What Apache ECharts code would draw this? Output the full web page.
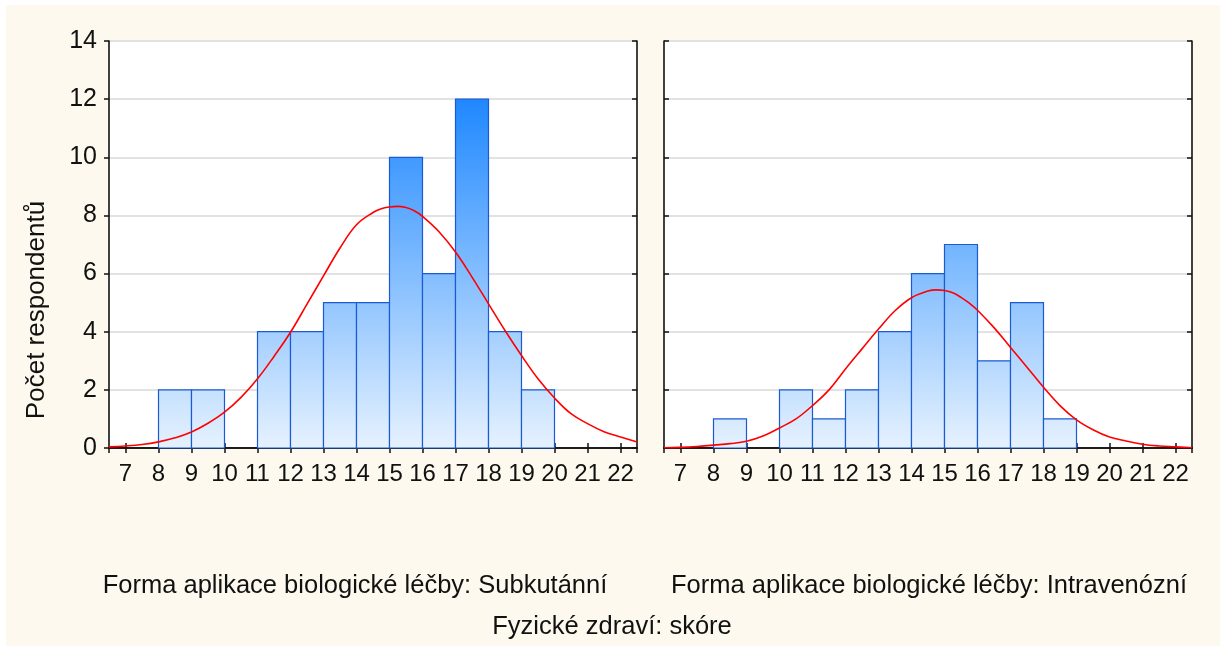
<!DOCTYPE html>
<html>
<head>
<meta charset="utf-8">
<script src="https://cdn.jsdelivr.net/npm/echarts@6/dist/echarts.min.js"></script>
<style>
  html, body { margin: 0; padding: 0; background: #fff; }
  #chart { width: 1220px; height: 650px; }
</style>
</head>
<body>
<div id="chart"></div>
<script>
// histogram bins: each bar runs from start to start + 1
var binStarts = [8, 9, 10, 11, 12, 13, 14, 15, 16, 17, 18, 19];
var countSubkutanni = [2, 2, 0, 4, 4, 5, 5, 10, 6, 12, 4, 2];
var countIntravenozni = [1, 0, 2, 1, 2, 4, 6, 7, 3, 5, 1, 0];

// red fitted curves
var curveX = [6.5, 7, 7.5, 8, 8.5, 9, 9.5, 10, 10.5, 11, 11.5, 12, 12.5, 13, 13.5, 14, 14.5,
  14.75, 15, 15.25, 15.5, 15.75, 16, 16.5, 17, 17.5, 18, 18.5, 19, 19.5, 20, 20.5, 21, 21.5, 22, 22.5];
var curveSubkutanni = [0.04, 0.07, 0.12, 0.21, 0.35, 0.55, 0.85, 1.23, 1.74, 2.38, 3.15, 3.98, 4.95,
  5.92, 6.88, 7.68, 8.1, 8.23, 8.29, 8.31, 8.27, 8.16, 7.97, 7.44, 6.74, 5.88, 4.96, 4.04, 3.18,
  2.38, 1.72, 1.18, 0.84, 0.56, 0.38, 0.21];
var curveIntravenozni = [0.01, 0.02, 0.05, 0.1, 0.15, 0.23, 0.41, 0.69, 1.0, 1.46, 2.0, 2.72, 3.41,
  4.09, 4.72, 5.17, 5.4, 5.44, 5.42, 5.34, 5.18, 4.98, 4.74, 4.14, 3.46, 2.78, 2.09, 1.46, 0.97,
  0.63, 0.38, 0.24, 0.13, 0.07, 0.04, 0.01];

var panelTitles = ['Forma aplikace biologické léčby: Subkutánní', 'Forma aplikace biologické léčby: Intravenózní'];
var xTitle = 'Fyzické zdraví: skóre';
var yTitle = 'Počet respondentů';

var chart = echarts.init(document.getElementById('chart'), null, { renderer: 'canvas' });

var FONT = '"Liberation Sans", Arial, sans-serif';
var INK = '#111';
var edge = { lineStyle: { color: INK, width: 1.6 } };

function pairs(xs, ys) {
  return xs.map(function (x, i) { return [x, ys[i]]; });
}

function renderBars(params, api) {
  var start = api.value(0);
  var count = api.value(1);
  if (!count) return;
  var p0 = api.coord([start, 0]);
  var p1 = api.coord([start + 1, count]);
  // colour depends on height, not on the bar: one gradient for the whole plot
  var yTop = api.coord([start, 12])[1];
  return {
    type: 'rect',
    shape: { x: p0[0], y: p1[1], width: p1[0] - p0[0], height: p0[1] - p1[1] },
    style: {
      fill: new echarts.graphic.LinearGradient(0, yTop, 0, p0[1], [
        { offset: 0, color: '#1f88ff' },
        { offset: 1, color: '#e6f2fe' }
      ], true),
      stroke: '#1a5ad2',
      lineWidth: 1.2
    }
  };
}

function xAxes(grid) {
  return [{
    gridIndex: grid, type: 'value', position: 'bottom',
    min: 6.5, max: 22.5, splitNumber: 16, minInterval: 1, maxInterval: 1,
    axisLine: edge,
    axisTick: { inside: true, length: 5, lineStyle: { color: INK, width: 1.5 } },
    axisLabel: { fontFamily: FONT, fontSize: 24, color: INK, margin: 14, showMinLabel: false, showMaxLabel: false },
    splitLine: { show: false }
  }, {
    gridIndex: grid, type: 'value', position: 'top',
    min: 6.5, max: 22.5, splitNumber: 16, minInterval: 1, maxInterval: 1,
    axisLine: edge,
    axisTick: { inside: true, length: 5, lineStyle: { color: INK, width: 1.5 } },
    axisLabel: { show: false },
    splitLine: { show: false }
  }];
}

function yAxes(grid, withLabels) {
  return [{
    gridIndex: grid, type: 'value', position: 'left',
    min: 0, max: 14, interval: 2,
    axisLine: { show: true, lineStyle: edge.lineStyle },
    axisTick: { show: true, inside: !withLabels, length: 5, lineStyle: { color: INK, width: 1.5 } },
    axisLabel: { show: withLabels, fontFamily: FONT, fontSize: 25, color: INK, margin: 12 },
    splitLine: { show: true, lineStyle: { color: '#d9d9d9', width: 1.5 } }
  }, {
    gridIndex: grid, type: 'value', position: 'right',
    min: 0, max: 14, interval: 2,
    axisLine: { show: true, lineStyle: edge.lineStyle },
    axisTick: { show: true, inside: true, length: 5, lineStyle: { color: INK, width: 1.5 } },
    axisLabel: { show: false },
    splitLine: { show: false }
  }];
}

var option = {
  backgroundColor: '#fff',
  animation: false,
  grid: [
    { left: 109, top: 41, width: 528, height: 407, show: true, backgroundColor: '#fff', borderWidth: 0 },
    { left: 664, top: 41, width: 528, height: 407, show: true, backgroundColor: '#fff', borderWidth: 0 }
  ],
  xAxis: xAxes(0).concat(xAxes(1)),
  yAxis: yAxes(0, true).concat(yAxes(1, false)),
  graphic: [
    { type: 'rect', z: -10, shape: { x: 6, y: 5, width: 1214, height: 641 }, style: { fill: '#fdf9ee' } },
    { type: 'text', x: 37, y: 310, rotation: Math.PI / 2, style: { text: yTitle, font: '26px ' + FONT, fill: INK, align: 'center', verticalAlign: 'middle' } },
    { type: 'text', x: 355, y: 586, style: { text: panelTitles[0], font: '25.5px ' + FONT, fill: INK, align: 'center', verticalAlign: 'middle' } },
    { type: 'text', x: 929, y: 586, style: { text: panelTitles[1], font: '25.5px ' + FONT, fill: INK, align: 'center', verticalAlign: 'middle' } },
    { type: 'text', x: 612, y: 627, style: { text: xTitle, font: '25.5px ' + FONT, fill: INK, align: 'center', verticalAlign: 'middle' } }
  ],
  series: [
    { type: 'custom', xAxisIndex: 0, yAxisIndex: 0, renderItem: renderBars, data: pairs(binStarts, countSubkutanni), z: 2 },
    { type: 'custom', xAxisIndex: 2, yAxisIndex: 2, renderItem: renderBars, data: pairs(binStarts, countIntravenozni), z: 2 },
    { type: 'line', xAxisIndex: 0, yAxisIndex: 0, data: pairs(curveX, curveSubkutanni), smooth: 0.4, showSymbol: false, lineStyle: { color: '#ff0000', width: 1.6 }, z: 3 },
    { type: 'line', xAxisIndex: 2, yAxisIndex: 2, data: pairs(curveX, curveIntravenozni), smooth: 0.4, showSymbol: false, lineStyle: { color: '#ff0000', width: 1.6 }, z: 3 }
  ]
};

chart.setOption(option);
</script>
</body>
</html>
